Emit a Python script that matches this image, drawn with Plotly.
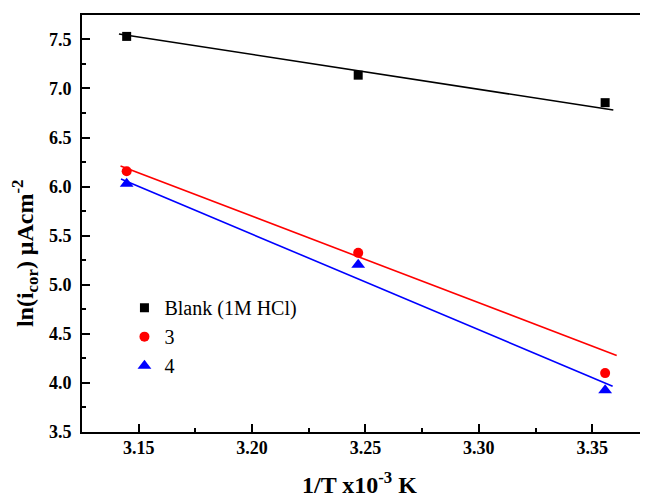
import plotly.graph_objects as go

# Data
inv_T = [3.1447, 3.2468, 3.3557]           # 1/T x10^-3 K
blank = [7.53, 7.135, 6.855]               # Blank (1M HCl)
comp3 = [6.157, 5.325, 4.10]               # compound 3
comp4 = [6.03, 5.205, 3.925]               # compound 4

# Linear-fit lines (end points)
fit_blank_x = [3.1413, 3.3593]
fit_blank_y = [7.555, 6.780]
fit_3_x = [3.1420, 3.3608]
fit_3_y = [6.210, 4.280]
fit_4_x = [3.1422, 3.3590]
fit_4_y = [6.078, 3.966]

names = ["Blank (1M HCl)", "3", "4"]
colors = ["#000000", "#ff0000", "#0000ff"]
symbols = ["square", "circle", "triangle-up"]
sizes = [9, 10, 12]

x_ticks = [3.15, 3.20, 3.25, 3.30, 3.35]
y_ticks = [3.5, 4.0, 4.5, 5.0, 5.5, 6.0, 6.5, 7.0, 7.5]

fig = go.Figure()
for fx, fy, c in [(fit_blank_x, fit_blank_y, colors[0]),
                  (fit_3_x, fit_3_y, colors[1]),
                  (fit_4_x, fit_4_y, colors[2])]:
    fig.add_trace(go.Scatter(x=fx, y=fy, mode="lines",
                             line=dict(color=c, width=1.6),
                             showlegend=False, hoverinfo="skip"))
for ys, n, c, s, sz in zip([blank, comp3, comp4], names, colors, symbols, sizes):
    fig.add_trace(go.Scatter(x=inv_T, y=ys, mode="markers", name=n,
                             marker=dict(color=c, symbol=s, size=sz, line=dict(width=0))))

serif = "Liberation Serif, Times New Roman, serif"
axis_common = dict(
    showgrid=False, zeroline=False, showline=True, linecolor="black", linewidth=2,
    ticks="inside", tickcolor="black", tickwidth=1.5, ticklen=8,
    tickfont=dict(family=serif, size=18, color="black", weight="bold"),
)
fig.update_xaxes(range=[3.125, 3.3746], tickvals=x_ticks,
                 ticktext=[f"{v:.2f}" for v in x_ticks],
                 mirror=True, ticklabelstandoff=-2,
                 minor=dict(ticks="inside", dtick=0.025, ticklen=4, tickwidth=1.5, tickcolor="black"),
                 **axis_common)
fig.update_yaxes(range=[3.5, 7.748], tickvals=y_ticks,
                 ticktext=[f"{v:.1f}" for v in y_ticks],
                 mirror=False, ticklabelstandoff=5,
                 minor=dict(ticks="inside", dtick=0.25, ticklen=4, tickwidth=1.5, tickcolor="black"),
                 **axis_common)

fig.add_annotation(text="1/T x10<sup>-3</sup> K", xref="paper", yref="paper",
                   x=0.49, y=0, yshift=-51, xanchor="center", yanchor="middle",
                   showarrow=False,
                   font=dict(family=serif, size=24, color="black", weight="bold"))
fig.add_annotation(text="ln(i<sub>cor</sub>) μAcm<sup>-2</sup>", xref="paper", yref="paper",
                   x=0, xshift=-57, y=0.429, xanchor="center", yanchor="middle",
                   textangle=-90, showarrow=False,
                   font=dict(family=serif, size=24, color="black", weight="bold"))

# page body has an 8px margin, so the figure is sized/offset to compensate
fig.update_layout(
    width=640, height=487,
    margin=dict(l=74.3, r=0, t=7, b=63.3, pad=0),
    paper_bgcolor="white", plot_bgcolor="white",
    legend=dict(x=0.075, y=0.345, xanchor="left", yanchor="top",
                bgcolor="rgba(0,0,0,0)", borderwidth=0,
                font=dict(family=serif, size=20, color="black"),
                tracegroupgap=0, itemsizing="trace"),
)

fig.write_html("out.html")
